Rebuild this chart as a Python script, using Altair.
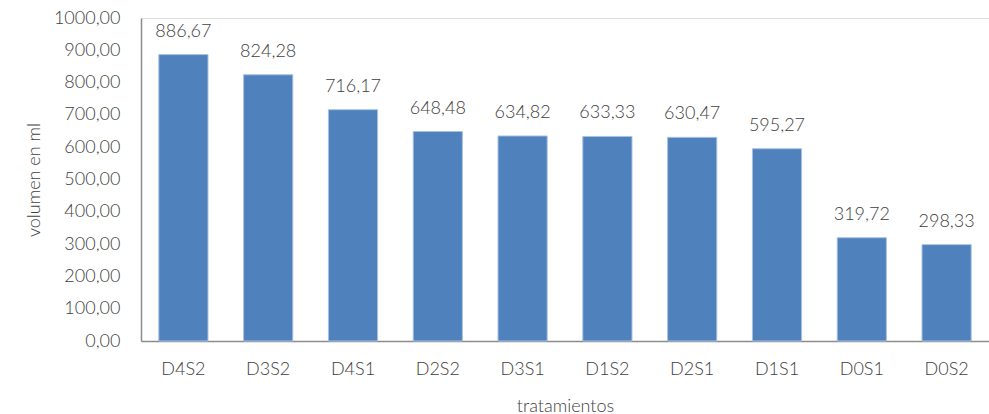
import altair as alt
import pandas as pd

# Volume per treatment (ml)
treatments = ["D4S2", "D3S2", "D4S1", "D2S2", "D3S1", "D1S2", "D2S1", "D1S1", "D0S1", "D0S2"]
volumes = [886.67, 824.28, 716.17, 648.48, 634.82, 633.33, 630.47, 595.27, 319.72, 298.33]

df = pd.DataFrame({"tratamiento": treatments, "volumen": volumes})

FONT = "Lato"
WEIGHT = 300
TEXT_COLOR = "#404040"

x = alt.X(
    "tratamiento:N",
    sort=treatments,
    title="tratamientos",
    scale=alt.Scale(paddingInner=0.42, paddingOuter=0.21),
    axis=alt.Axis(
        labelAngle=0,
        labelFontSize=18,
        labelFontWeight=WEIGHT,
        labelColor=TEXT_COLOR,
        labelFont=FONT,
        labelPadding=19,
        ticks=False,
        domainColor="#8c8c8c",
        domainWidth=1.5,
        titleFont=FONT,
        titleFontSize=18,
        titleFontWeight=WEIGHT,
        titleColor=TEXT_COLOR,
        titlePadding=19,
    ),
)

y = alt.Y(
    "volumen:Q",
    title="volumen en ml",
    scale=alt.Scale(domain=[0, 1000], nice=False),
    axis=alt.Axis(
        values=list(range(0, 1001, 100)),
        labelExpr="replace(format(datum.value, '.2f'), '.', ',')",
        labelOverlap=False,
        labelFontSize=18,
        labelFontWeight=WEIGHT,
        labelColor=TEXT_COLOR,
        labelFont=FONT,
        labelPadding=21,
        ticks=False,
        grid=False,
        domainColor="#8c8c8c",
        domainWidth=1.5,
        titleFont=FONT,
        titleFontSize=18,
        titleFontWeight=WEIGHT,
        titleColor=TEXT_COLOR,
        titlePadding=10,
    ),
)

bars = alt.Chart(df).mark_bar(color="#4F81BD", stroke="#A9C1E0", strokeWidth=1).encode(x=x, y=y)

labels = (
    alt.Chart(df)
    .transform_calculate(etiqueta="replace(format(datum.volumen, '.2f'), '.', ',')")
    .mark_text(baseline="alphabetic", dy=-18, fontSize=18, fontWeight=WEIGHT, font=FONT, color=TEXT_COLOR)
    .encode(x=x, y=y, text="etiqueta:N")
)

chart = (
    alt.layer(bars, labels)
    .properties(
        width=848,
        height=323,
        autosize=alt.AutoSizeParams(type="none"),
        padding={"left": 141, "top": 18, "right": 0, "bottom": 73},
    )
    .configure_view(stroke=None)
    .configure(background="white")
)

chart.save("out.html", embed_options={"renderer": "svg", "actions": False})
